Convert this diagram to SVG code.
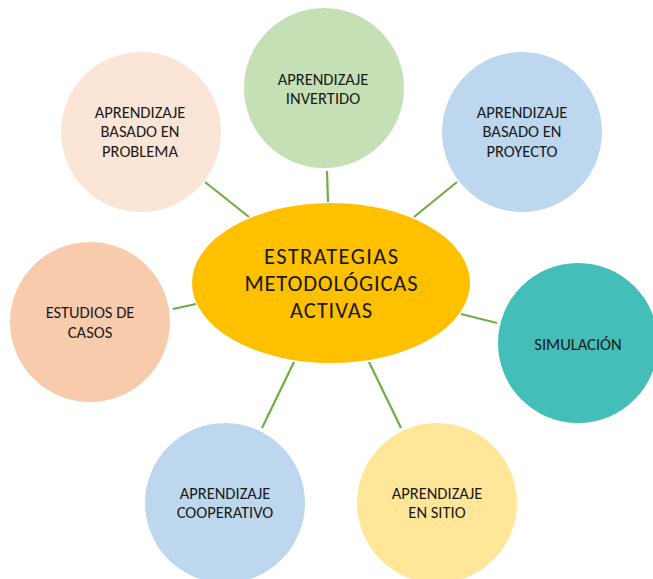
<svg xmlns="http://www.w3.org/2000/svg" width="653" height="579" viewBox="0 0 653 579">
<style>
.c{stroke:none}
.t{font-family:Carlito,Lato,"Liberation Sans",sans-serif;font-size:16.5px;fill:#1a1a1a;text-anchor:middle}
.tc{font-family:Carlito,Lato,"Liberation Sans",sans-serif;font-size:22.5px;fill:#1a1a1a;text-anchor:middle}
.ln{stroke:#70AD47;stroke-width:2.2;fill:none}
</style>
<rect width="653" height="579" fill="#ffffff"/>
<g id="connectors">
<line class="ln" x1="205" y1="182" x2="249" y2="217"/>
<line class="ln" x1="327" y1="171" x2="328" y2="202"/>
<line class="ln" x1="457" y1="182" x2="414" y2="217"/>
<line class="ln" x1="173" y1="309" x2="196" y2="304"/>
<line class="ln" x1="461" y1="314" x2="497" y2="323"/>
<line class="ln" x1="294" y1="362" x2="262" y2="428"/>
<line class="ln" x1="369" y1="362" x2="401" y2="428"/>
</g>
<g id="center">
<ellipse class="c" cx="331" cy="283" rx="139" ry="80" fill="#FFC000"/>
<text class="tc" x="331" y="264" textLength="134" lengthAdjust="spacing">ESTRATEGIAS</text>
<text class="tc" x="331" y="291" textLength="173" lengthAdjust="spacing">METODOLÓGICAS</text>
<text class="tc" x="331" y="318" textLength="82" lengthAdjust="spacing">ACTIVAS</text>
</g>
<g id="invertido">
<circle class="c" cx="324" cy="88" r="80" fill="#C5E0B4"/>
<text class="t" x="323" y="85">APRENDIZAJE</text>
<text class="t" x="323" y="104">INVERTIDO</text>
</g>
<g id="problema">
<circle class="c" cx="141" cy="132" r="80" fill="#FBE5D6"/>
<text class="t" x="140" y="118">APRENDIZAJE</text>
<text class="t" x="140" y="137">BASADO EN</text>
<text class="t" x="140" y="157">PROBLEMA</text>
</g>
<g id="proyecto">
<circle class="c" cx="522" cy="132" r="80" fill="#BDD7EE"/>
<text class="t" x="522" y="118">APRENDIZAJE</text>
<text class="t" x="522" y="137">BASADO EN</text>
<text class="t" x="522" y="157">PROYECTO</text>
</g>
<g id="casos">
<circle class="c" cx="90" cy="322" r="80" fill="#F8CBAD"/>
<text class="t" x="90" y="318">ESTUDIOS DE</text>
<text class="t" x="90" y="338">CASOS</text>
</g>
<g id="simulacion">
<circle class="c" cx="578" cy="343" r="80" fill="#43BEB8"/>
<text class="t" x="578" y="349.5">SIMULACIÓN</text>
</g>
<g id="cooperativo">
<circle class="c" cx="225" cy="503" r="80" fill="#BDD7EE"/>
<text class="t" x="225" y="499">APRENDIZAJE</text>
<text class="t" x="225" y="518">COOPERATIVO</text>
</g>
<g id="sitio">
<circle class="c" cx="437" cy="503" r="80" fill="#FFE699"/>
<text class="t" x="437" y="499">APRENDIZAJE</text>
<text class="t" x="437" y="518">EN SITIO</text>
</g>
</svg>
